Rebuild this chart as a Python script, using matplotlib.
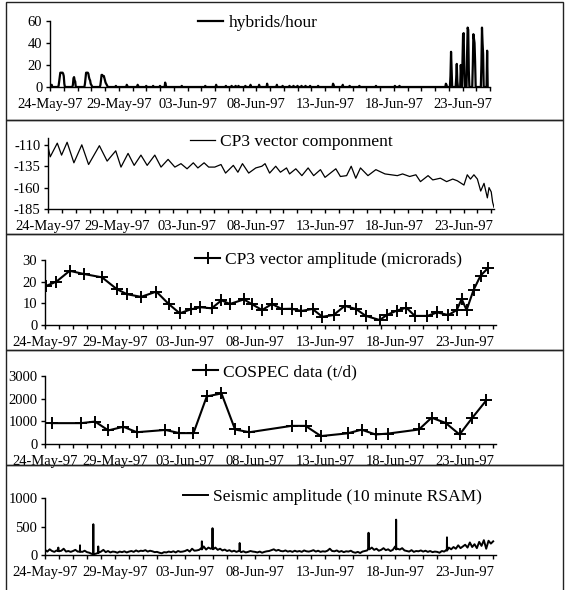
import numpy as np
import pandas as pd
import matplotlib
matplotlib.use('Agg')
import matplotlib.pyplot as plt
from matplotlib.patches import Rectangle

plt.rcParams['font.family'] = ['Liberation Serif', 'DejaVu Serif']
plt.rcParams['axes.unicode_minus'] = False

# x axis: days after 24-May-97
label_days = [0, 5, 10, 15, 20, 25, 30]
date_labels = ['24-May-97', '29-May-97', '03-Jun-97', '08-Jun-97',
               '13-Jun-97', '18-Jun-97', '23-Jun-97']

# hybrids/hour: hours (after 24-May 00:00) with non-zero counts
hyb_hours = [1, 2, 3,
             15, 16, 17, 18, 19, 20, 21, 22, 23, 24, 25,
             40, 41, 42, 43, 44,
             61, 62, 63, 64, 65, 66, 67, 68, 69, 70, 71, 72, 73,
             88, 89, 90, 91, 92, 93, 94, 95, 96, 97, 98, 99, 100,
             115, 134, 135, 153, 154, 168, 180, 192, 201, 202, 230, 271, 290,
             307, 317, 324, 329, 341, 350, 365, 379, 396, 406, 418, 425, 432,
             439, 446, 454, 468, 494, 495, 511, 523, 540, 569, 602, 610,
             691, 692, 699, 700, 701, 709, 710, 711, 717, 718, 720, 721, 722,
             723, 728, 729, 730, 731, 738, 739, 740, 741, 742, 753, 754, 755,
             756, 763]
hyb_vals = [2, 1, 2,
            1, 5, 9, 13, 13, 13, 13, 13, 12, 10, 3,
            2, 8, 9, 6, 5,
            3, 8, 13, 13, 13, 13, 12, 9, 7, 6, 3, 2, 1,
            2, 6, 11, 11, 10, 10, 10, 8, 6, 4, 3, 2, 1,
            1, 2, 1, 2, 1, 1, 1, 1, 4, 2, 1, 1, 2,
            1, 1, 1, 1, 1, 2, 2, 3, 2, 1, 1, 1, 1,
            1, 1, 1, 1, 3, 2, 2, 1, 1, 1, 1, 1,
            3, 2, 10, 32, 15, 8, 21, 5, 20, 10, 25, 48, 49,
            20, 30, 54, 52, 15, 20, 48, 44, 40, 23, 20, 54, 40,
            30, 33]

# CP3 vector component (turning points)
cp3c_days = [0.0, 0.16, 0.67, 0.98, 1.38, 1.87, 2.44, 2.93, 3.71, 4.27, 4.89,
             5.27, 5.78, 6.22, 6.71, 7.16, 7.71, 8.16, 8.67, 9.16, 9.6, 10.04,
             10.49, 10.82, 11.27, 11.6, 12.04, 12.49, 12.82, 13.38, 13.71,
             14.04, 14.49, 15.0, 15.44, 15.67, 16.0, 16.44, 16.78, 17.22,
             17.44, 17.89, 18.33, 18.78, 19.18, 19.67, 20.0, 20.78, 21.11,
             21.56, 21.89, 22.22, 22.56, 23.1, 23.67, 24.33, 25.22, 25.6,
             26.11, 26.56, 26.89, 27.44, 27.78, 28.33, 28.78, 29.22, 29.55,
             30.03, 30.27, 30.5, 30.75, 31.0, 31.24, 31.48, 31.72, 31.84,
             32.0, 32.1, 32.2]
cp3c_vals = [-112, -124, -108, -122, -107, -131, -110, -133, -111, -129, -117,
             -136, -120, -134, -122, -134, -122, -136, -127, -136, -132, -138,
             -131, -137, -131, -136, -136, -133, -143, -134, -142,
             -132, -143, -137, -135, -132, -143, -135, -142, -137,
             -144, -138, -146, -137, -146, -139, -148, -138, -147,
             -146, -135, -149, -137, -146, -139, -144, -146, -144,
             -147, -145, -153, -146, -151, -149, -153, -150, -152,
             -157, -145, -150, -145, -150, -164, -155, -172, -160,
             -165, -177, -183]

# CP3 vector amplitude (microrads)
amp_days = [0.07, 0.81, 1.76, 2.81, 4.07, 5.14, 5.86, 6.86, 7.95, 8.83, 9.62,
            10.4, 11.1, 11.9, 12.6, 13.2, 14.2, 14.8, 15.5, 16.2, 16.9, 17.6,
            18.3, 19.1, 19.8, 20.6, 21.4, 22.2, 22.9, 23.9, 24.4, 25.1, 25.8,
            26.4, 27.3, 28.0, 28.8, 29.4, 29.75, 30.1, 30.6, 31.1, 31.65]
amp_vals = [18, 20, 25, 23.5, 22, 16.5, 14.2, 13, 15.4, 9.7, 5.4,
            7.2, 8.2, 7.7, 11.4, 9.7, 11.8, 9.5, 6.9, 9.7, 7.4, 7.5,
            6.5, 7.4, 3.8, 4.6, 8.8, 7.4, 4.2, 2.3, 4.6, 6.6, 8.0,
            4.2, 4.2, 5.8, 4.6, 6.9, 12, 6.9, 16.2, 22.8, 26.4]

# COSPEC SO2 flux (t/d)
cos_days = [0.48, 2.57, 3.57, 4.52, 5.6, 6.55, 8.6, 9.6, 10.6, 11.55, 12.6,
            13.57, 14.6, 17.6, 18.6, 19.7, 21.6, 22.6, 23.6, 24.5, 26.7, 27.6,
            28.6, 29.6, 30.5, 31.5]
cos_vals = [920, 920, 990, 600, 760, 520, 620, 480, 480, 2100, 2230,
            640, 520, 800, 800, 350, 470, 630, 420, 460, 640, 1160,
            930, 420, 1150, 1920]

# RSAM, 4-hour readings, one row per day
rsam_4h = [90, 60, 100, 70, 55, 80,
           65, 75, 110, 60, 70, 55,
           70, 90, 60, 80, 55, 75,
           50, 40, 20, 15, 25, 40,
           60, 90, 50, 70, 45, 60,
           55, 40, 60, 50, 65, 45,
           60, 70, 55, 80, 60, 75,
           70, 85, 60, 75, 65, 50,
           55, 40, 30, 50, 45, 60,
           50, 65, 45, 70, 55, 60,
           70, 90, 60, 110, 75, 80,
           90, 120, 150, 95, 130, 110,
           100, 130, 90, 110, 80, 95,
           70, 85, 60, 75, 55, 70,
           50, 65, 45, 55, 70, 60,
           55, 45, 60, 40, 55, 65,
           70, 85, 100, 75, 90, 70,
           65, 80, 60, 70, 55, 75,
           60, 70, 55, 80, 65, 60,
           70, 85, 60, 75, 55, 65,
           60, 75, 110, 70, 65, 80,
           55, 70, 50, 65, 60, 75,
           50, 40, 55, 35, 60, 70,
           80, 100, 130, 90, 110, 75,
           90, 120, 85, 100, 70, 90,
           150, 110, 95, 120, 80, 70,
           60, 85, 55, 70, 65, 80,
           60, 75, 55, 70, 50, 60,
           55, 40, 70, 60, 90, 130,
           100, 140, 110, 170, 120, 150,
           180, 130, 220, 140, 190, 120,
           230, 160, 260, 110, 250, 200,
           240]
rsam_spike_days = [0.94, 0.95, 0.96, 2.49, 2.5, 2.51, 3.44, 3.45, 3.46,
                   3.79, 3.8, 3.81, 11.19, 11.2, 11.21, 11.95, 11.96, 11.97,
                   13.89, 13.9, 13.91, 23.09, 23.1, 23.11, 25.06, 25.07, 25.08,
                   28.69, 28.7, 28.71]
rsam_spike_vals = [70, 130, 70, 60, 170, 60, 20, 540, 20,
                   40, 150, 40, 100, 240, 100, 120, 470, 120,
                   70, 210, 70, 110, 390, 110, 100, 620, 100,
                   80, 310, 80]

rsam = pd.DataFrame({'day': np.arange(len(rsam_4h)) / 6, 'val': rsam_4h})
rsam = pd.concat([rsam, pd.DataFrame({'day': rsam_spike_days, 'val': rsam_spike_vals})])
rsam = rsam.sort_values('day')

hyb_t = np.arange(0, 765) / 24
hyb_y = np.zeros(len(hyb_t))
hyb_y[hyb_hours] = hyb_vals

W, H = 570, 590
fig = plt.figure(figsize=(W / 100, H / 100), dpi=100)

def px_axes(x0, x1, ytop, ybot):
    return fig.add_axes([x0 / W, 1 - ybot / H, (x1 - x0) / W, (ybot - ytop) / H])

# panel boxes (the last one runs off the bottom edge like the scan)
for top, bot in [(2, 120), (120, 234), (234, 350), (350, 465), (465, 595)]:
    fig.add_artist(Rectangle((6 / W, 1 - bot / H), 557 / W, (bot - top) / H,
                             transform=fig.transFigure, fill=False,
                             lw=1.0, ec='#222222'))

ax1 = px_axes(50, 490, 21, 87)
ax2 = px_axes(48, 494, 138, 209)
ax3 = px_axes(45, 496, 260, 325)
ax4 = px_axes(45, 496, 376, 444)
ax5 = px_axes(45, 496, 498, 555)

ax1.plot(hyb_t, hyb_y, color='black', lw=1.6, label='hybrids/hour')
ax1.set_ylim(0, 60)
ax1.set_yticks([0, 20, 40, 60])
ax1.set_xlim(0, 31.8)

ax2.plot(cp3c_days, cp3c_vals, color='black', lw=0.9, label='CP3 vector componment')
ax2.set_ylim(-185, -102)
ax2.set_yticks([-110, -135, -160, -185])
ax2.set_xlim(0, 32.2)

ax3.plot(amp_days, amp_vals, color='black', lw=1.5, marker='+', ms=8, mew=1.4,
         label='CP3 vector amplitude (microrads)')
ax3.set_ylim(0, 30)
ax3.set_yticks([0, 10, 20, 30])
ax3.set_xlim(0, 32.2)

ax4.plot(cos_days, cos_vals, color='black', lw=1.5, marker='+', ms=8, mew=1.4,
         label='COSPEC data (t/d)')
ax4.set_ylim(0, 3000)
ax4.set_yticks([0, 1000, 2000, 3000])
ax4.set_xlim(0, 32.2)

ax5.plot(rsam['day'], rsam['val'], color='black', lw=1.4,
         label='Seismic amplitude (10 minute RSAM)')
ax5.set_ylim(0, 1000)
ax5.set_yticks([0, 500, 1000])
ax5.set_xlim(0, 32.2)

legend_pos = [(198, 23), (190, 142), (195, 260), (193, 372), (183, 497)]
for ax, (lx, ly) in zip([ax1, ax2, ax3, ax4, ax5], legend_pos):
    for s in ['top', 'right']:
        ax.spines[s].set_visible(False)
    ax.spines['left'].set_linewidth(1.0)
    ax.spines['bottom'].set_linewidth(1.0)
    ax.set_xticks(label_days)
    ax.set_xticklabels(date_labels)
    ax.set_xticks(np.arange(0, 33), minor=True)
    ax.tick_params(axis='x', which='both', length=3, width=1, pad=5, labelsize=10.5)
    ax.tick_params(axis='y', length=3, width=1, pad=2.5, labelsize=10.5)
    ax.patch.set_visible(False)
    ax.legend(loc='center left', bbox_to_anchor=(lx / W, 1 - ly / H),
              bbox_transform=fig.transFigure, frameon=False, fontsize=12.5,
              handlelength=1.45, handletextpad=0.3, borderpad=0, borderaxespad=0)

fig.savefig('out.png', dpi=100)
